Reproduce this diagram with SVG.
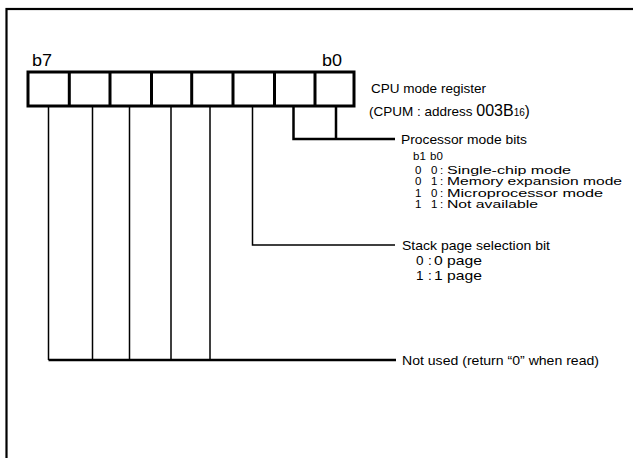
<svg xmlns="http://www.w3.org/2000/svg" width="633" height="458" viewBox="0 0 633 458">
<style>
.t{font-family:"Liberation Sans",Arial,sans-serif;font-size:13.5px;fill:#000}
.big{font-size:16px}
.s{font-size:11.5px}
.thin{stroke:#000;stroke-width:1.5;fill:none}
.thick{stroke:#000;stroke-width:2.5;fill:none}
</style>
<rect x="6.5" y="9" width="700" height="500" fill="#fff" stroke="#000" stroke-width="2.2"/>
<g id="register">
<rect x="28" y="72" width="326" height="34" fill="#fff" stroke="#000" stroke-width="3"/>
<path d="M69.3 72V106M110 72V106M151.5 72V106M191.7 72V106M233 72V106M274.5 72V106M315 72V106" stroke="#000" stroke-width="3"/>
<text class="t big" x="32" y="66" textLength="20" lengthAdjust="spacingAndGlyphs">b7</text>
<text class="t big" x="322" y="66" textLength="20" lengthAdjust="spacingAndGlyphs">b0</text>
<text class="t" x="371" y="93" textLength="115" lengthAdjust="spacingAndGlyphs">CPU mode register</text>
<text class="t" x="369" y="116">(CPUM : address <tspan font-size="16">003B</tspan><tspan font-size="10">16</tspan><tspan font-size="15">)</tspan></text>
</g>
<g id="connectors">
<path class="thin" d="M48.5 106V360M92.5 106V360M129.5 106V360M171 106V360M210 106V360"/>
<path class="thick" d="M48.5 360H396"/>
<path class="thin" d="M252.5 106V245H395"/>
<path class="thick" d="M293.5 106V139H395M336 106V139"/>
</g>
<g id="processor-mode-bits">
<text class="t" x="401" y="144" textLength="126" lengthAdjust="spacingAndGlyphs">Processor mode bits</text>
<text class="t s" x="413" y="160">b1</text>
<text class="t s" x="430" y="160">b0</text>
<g class="t s">
<text x="415" y="173.5">0</text><text x="431" y="173.5">0</text><text x="440" y="173.5">:</text>
<text x="447" y="173.5" textLength="124" lengthAdjust="spacingAndGlyphs">Single-chip mode</text>
<text x="415" y="185">0</text><text x="431" y="185">1</text><text x="440" y="185">:</text>
<text x="447" y="185" textLength="175" lengthAdjust="spacingAndGlyphs">Memory expansion mode</text>
<text x="415" y="196.5">1</text><text x="431" y="196.5">0</text><text x="440" y="196.5">:</text>
<text x="447" y="196.5" textLength="156" lengthAdjust="spacingAndGlyphs">Microprocessor mode</text>
<text x="415" y="208">1</text><text x="431" y="208">1</text><text x="440" y="208">:</text>
<text x="447" y="208" textLength="91" lengthAdjust="spacingAndGlyphs">Not available</text>
</g>
</g>
<g id="stack-page-bit">
<text class="t" x="402" y="250" textLength="148" lengthAdjust="spacingAndGlyphs">Stack page selection bit</text>
<text class="t" x="416" y="265">0</text><text class="t" x="428" y="265">:</text>
<text class="t" x="434" y="265" textLength="48" lengthAdjust="spacingAndGlyphs">0 page</text>
<text class="t" x="416" y="280">1</text><text class="t" x="428" y="280">:</text>
<text class="t" x="434" y="280" textLength="48" lengthAdjust="spacingAndGlyphs">1 page</text>
</g>
<g id="not-used">
<text class="t" x="402" y="365" textLength="197" lengthAdjust="spacingAndGlyphs">Not used (return “0” when read)</text>
</g>
</svg>
